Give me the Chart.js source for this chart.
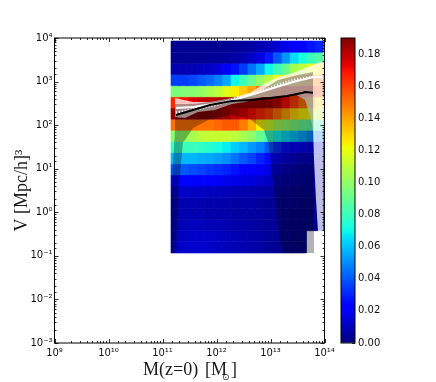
<!DOCTYPE html>
<html>
<head>
<meta charset="utf-8">
<script src="https://cdn.jsdelivr.net/npm/chart.js@4/dist/chart.umd.min.js"></script>
<style>
  html, body { margin: 0; padding: 0; background: #fff; }
  #wrap { position: relative; width: 436px; height: 382px; overflow: hidden; }
  canvas { position: absolute; left: 0; top: 0; }
</style>
</head>
<body>
<div id="wrap">
  <canvas id="map" width="436" height="382"></canvas>
  <canvas id="bar" width="436" height="382"></canvas>
</div>
<script>
// cell edges of the histogram, log10 of mass and volume
const logMassEdges = [11.157,11.314,11.47,11.627,11.783,11.94,12.096,12.253,12.409,12.566,12.722,12.879,13.035,13.192,13.348,13.505,13.661,13.818,13.974];
const logVolEdges = [3.931,3.675,3.419,3.163,2.906,2.65,2.394,2.138,1.882,1.626,1.37,1.114,.858,.602,.345,.089,-.167,-.423,-.679,-.935];

// fraction per cell, top row first
const fractions = [
  [.003,.003,.003,.003,.003,.003,.003,.004,.005,.006,.008,.010,.014,.018,.022,.024,.027,.03],
  [.003,.003,.003,.003,.004,.004,.005,.006,.008,.012,.016,.028,.04,.052,.065,.072,.08,.085],
  [.008,.008,.009,.01,.012,.015,.02,.027,.035,.045,.055,.07,.08,.09,.105,.11,.12,.125],
  [.035,.035,.037,.04,.043,.048,.055,.07,.08,.09,.1,.11,.12,.13,.135,.14,.145,.15],
  [.095,.096,.098,.1,.105,.11,.118,.125,.132,.14,.15,.155,.16,.165,.165,.165,.165,.16],
  [.165,.17,.175,.178,.18,.182,.184,.186,.186,.186,.186,.185,.18,.17,.16,.15,.14,.13],
  [.188,.19,.19,.19,.19,.188,.185,.18,.175,.17,.165,.16,.15,.14,.13,.125,.12,.11],
  [.15,.15,.15,.15,.15,.152,.155,.155,.148,.138,.125,.115,.105,.1,.095,.09,.085,.08],
  [.098,.1,.105,.11,.112,.112,.112,.11,.105,.1,.09,.08,.07,.065,.06,.055,.05,.045],
  [.078,.08,.08,.078,.075,.072,.068,.062,.058,.052,.048,.04,.032,.026,.022,.02,.018,.016],
  [.058,.058,.058,.056,.055,.053,.05,.045,.04,.036,.03,.025,.02,.016,.013,.011,.01,.009],
  [.04,.04,.038,.036,.034,.032,.03,.027,.024,.022,.02,.016,.013,.01,.008,.007,.006,.005],
  [.024,.024,.023,.022,.021,.02,.018,.017,.016,.015,.013,.011,.009,.007,.006,.005,.004,.004],
  [.012,.012,.011,.011,.01,.01,.009,.009,.008,.008,.007,.006,.005,.004,.004,.003,.003,.003],
  [.008,.008,.008,.008,.007,.007,.007,.006,.006,.006,.005,.004,.004,.003,.003,.002,.002,.002],
  [.007,.008,.008,.008,.007,.007,.007,.006,.006,.005,.005,.004,.003,.003,.002,.002,.002,.002],
  [.008,.009,.01,.01,.009,.009,.008,.007,.007,.006,.005,.004,.003,.003,.002,.002,.002,.002],
  [.009,.011,.012,.012,.012,.011,.01,.009,.008,.007,.006,.004,.003,.003,.002,.002,null,null],
  [.01,.012,.013,.013,.012,.011,.01,.009,.008,.007,.006,.004,.003,.003,.002,.002,null,null]
];

// shaded regions and curves, [log10 M, log10 V]
const lightRegion = [[11.231,2.623],[11.565,2.531],[11.88,2.531],[12.287,2.623],[12.62,2.738],[12.843,2.921],[13.139,3.105],[13.417,3.197],[13.974,3.472],[13.974,-.453],[13.88,-.453],[13.843,.282],[13.806,1.2],[13.787,1.888],[13.731,2.233],[13.639,2.577],[13.454,2.715],[13.139,2.646],[12.843,2.646],[12.528,2.531],[12.287,2.485],[11.972,2.347],[11.657,2.302],[11.417,2.164],[11.231,2.187]];
const darkRegion = [[11.231,2.485],[11.565,2.485],[11.88,2.531],[12.287,2.623],[12.528,2.669],[12.843,2.807],[13.139,3.036],[13.509,3.151],[13.787,3.22],[13.806,-.935],[13.213,-.935],[13.083,.351],[12.954,1.613],[12.88,1.888],[12.62,2.141],[12.287,2.233],[11.88,2.141],[11.565,1.934],[11.417,1.659],[11.38,1.613],[11.287,.351],[11.25,-.935],[11.157,-.935],[11.157,.282],[11.231,1.865]];
const upperCurve = [[11.25,2.393],[11.565,2.416],[12.194,2.531],[12.806,2.761],[13.417,2.99],[13.787,3.105],[13.974,3.105]];
const dottedCurve = [[11.25,2.279],[11.972,2.462],[12.528,2.669],[12.843,2.784],[13.139,2.921],[13.454,3.036],[13.787,3.105]];
const medianCurve = [[11.25,2.233],[11.565,2.347],[11.88,2.462],[12.287,2.554],[12.62,2.577],[12.991,2.623],[13.306,2.669],[13.602,2.745],[13.639,2.761],[13.787,2.745]];

// tick labels
const decadeLabels = {'-3':'10⁻³','-2':'10⁻²','-1':'10⁻¹','0':'10⁰','1':'10¹','2':'10²','3':'10³','4':'10⁴',
  '9':'10⁹','10':'10¹⁰','11':'10¹¹','12':'10¹²','13':'10¹³','14':'10¹⁴'};
const colorMax = 0.19;
const barTicks = 0.02;

const plotLeft = 54.5, plotRight = 324.5, plotTop = 38, plotBottom = 343;
const tickFont = { family: '"DejaVu Sans"', size: 10 };

function piece(stops, t) {
  for (let i = 1; i < stops.length; i++) {
    if (t <= stops[i][0]) {
      const f = (t - stops[i - 1][0]) / (stops[i][0] - stops[i - 1][0]);
      return stops[i - 1][1] + f * (stops[i][1] - stops[i - 1][1]);
    }
  }
  return stops[stops.length - 1][1];
}
const jetR = [[0,0],[.35,0],[.66,1],[.89,1],[1,.5]];
const jetG = [[0,0],[.125,0],[.375,1],[.64,1],[.91,0],[1,0]];
const jetB = [[0,.5],[.11,1],[.34,1],[.65,0],[1,0]];
function jet(t) {
  t = Math.min(1, Math.max(0, t));
  return 'rgb(' + Math.round(255 * piece(jetR, t)) + ',' + Math.round(255 * piece(jetG, t)) + ',' + Math.round(255 * piece(jetB, t)) + ')';
}

const pts = list => list.map(p => ({ x: Math.pow(10, p[0]), y: Math.pow(10, p[1]) }));

let datasets = [];
fractions.forEach((row, r) => {
  row.forEach((v, c) => {
    if (v === null) return;
    const col = jet(v / colorMax);
    datasets.push({
      data: pts([[logMassEdges[c], logVolEdges[r]], [logMassEdges[c + 1], logVolEdges[r]],
                 [logMassEdges[c + 1], logVolEdges[r + 1]], [logMassEdges[c], logVolEdges[r + 1]], [logMassEdges[c], logVolEdges[r]]]),
      showLine: true, fill: 'shape', backgroundColor: col, borderColor: col, borderWidth: 0.6,
      pointRadius: 0, tension: 0, order: 10
    });
  });
});
function region(list, color, order) {
  return { data: pts(list.concat([list[0]])), showLine: true, fill: 'shape', backgroundColor: color,
           borderWidth: 0, pointRadius: 0, tension: 0, order: order };
}
datasets.push(region(lightRegion, 'rgba(255,255,255,0.75)', 5));
datasets.push(region(darkRegion, 'rgba(0,0,0,0.3)', 4));
datasets.push({ data: pts(upperCurve), showLine: true, borderColor: '#fff', borderWidth: 2, pointRadius: 0, order: 2 });
datasets.push({ data: pts(dottedCurve), showLine: true, borderColor: '#fff', borderWidth: 3, borderDash: [1, 2], pointRadius: 0, order: 1 });
datasets.push({ data: pts(medianCurve), showLine: true, borderColor: '#000', borderWidth: 2, pointRadius: 0, order: 0 });

// frame and inward ticks, on all four sides like the original
const frameTicks = {
  id: 'frameTicks',
  afterDraw(chart) {
    const { ctx, chartArea: a, scales } = chart;
    ctx.save();
    ctx.strokeStyle = '#000';
    ctx.lineWidth = 0.8;
    ctx.beginPath();
    scales.x.ticks.forEach(t => {
      const px = Math.round(scales.x.getPixelForValue(t.value)) + 0.5;
      const len = t.major ? 4 : 2;
      ctx.moveTo(px, a.bottom); ctx.lineTo(px, a.bottom - len);
      ctx.moveTo(px, a.top); ctx.lineTo(px, a.top + len);
    });
    scales.y.ticks.forEach(t => {
      const py = Math.round(scales.y.getPixelForValue(t.value)) + 0.5;
      const len = t.major ? 4 : 2;
      ctx.moveTo(a.left, py); ctx.lineTo(a.left + len, py);
      ctx.moveTo(a.right, py); ctx.lineTo(a.right - len, py);
    });
    ctx.stroke();
    ctx.lineWidth = 1;
    ctx.strokeRect(a.left, a.top, a.right - a.left, a.bottom - a.top);
    // x axis title with the subscript sun symbol
    ctx.fillStyle = '#1a1a1a';
    ctx.textBaseline = 'alphabetic';
    ctx.textAlign = 'left';
    ctx.font = '18px "Liberation Serif"';
    ctx.fillText('M(z=0)', 143, 375);
    ctx.fillText('[M', 205, 375);
    ctx.fillText(']', 231, 375);
    ctx.font = '9px "DejaVu Sans"';
    ctx.fillText('⊙', 222, 380);
    ctx.restore();
  }
};

function logAxis(min, max) {
  return {
    type: 'logarithmic', min: min, max: max,
    grid: { display: false, drawTicks: false },
    border: { display: false },
    ticks: {
      autoSkip: false, maxRotation: 0, minRotation: 0, color: '#111', font: tickFont,
      major: { enabled: true },
      callback: v => {
        const e = Math.log10(v);
        if (Math.abs(e - Math.round(e)) > 1e-6) return '';
        return decadeLabels[String(Math.round(e))] || '';
      }
    }
  };
}

const xAxis = logAxis(1e9, 1e14);
xAxis.ticks.padding = 4;
xAxis.afterFit = s => { s.height = 382 - plotBottom; };
const yAxis = logAxis(1e-3, 1e4);
yAxis.ticks.padding = 2;
yAxis.title = { display: true, text: 'V [Mpc/h]³', color: '#1a1a1a', padding: { top: 11, bottom: 0 },
                font: { family: '"Liberation Serif"', size: 18, weight: 'normal' } };
yAxis.afterFit = s => { s.width = plotLeft; };

new Chart(document.getElementById('map'), {
  type: 'scatter',
  data: { datasets: datasets },
  options: {
    responsive: false, animation: false, devicePixelRatio: 1,
    layout: { padding: { top: plotTop, right: 436 - plotRight, left: 0, bottom: 0 } },
    plugins: { legend: { display: false }, tooltip: { enabled: false } },
    scales: { x: xAxis, y: yAxis }
  },
  plugins: [frameTicks]
});

// colour bar: one floating bar painted with the same colour map
const barFrame = {
  id: 'barFrame',
  afterDraw(chart) {
    const { ctx, chartArea: a } = chart;
    ctx.save();
    ctx.strokeStyle = '#000';
    ctx.lineWidth = 1;
    ctx.strokeRect(a.left, a.top, a.right - a.left, a.bottom - a.top);
    ctx.restore();
  }
};
new Chart(document.getElementById('bar'), {
  type: 'bar',
  data: {
    labels: ['fraction'],
    datasets: [{
      data: [[0, colorMax]],
      barPercentage: 1, categoryPercentage: 1, borderWidth: 0,
      backgroundColor: ctx => {
        const a = ctx.chart.chartArea;
        if (!a) return '#000';
        const g = ctx.chart.ctx.createLinearGradient(0, a.bottom, 0, a.top);
        for (let i = 0; i <= 100; i++) g.addColorStop(i / 100, jet(i / 100));
        return g;
      }
    }]
  },
  options: {
    responsive: false, animation: false, devicePixelRatio: 1,
    layout: { padding: { top: plotTop, left: 341, right: 0, bottom: 382 - plotBottom } },
    plugins: { legend: { display: false }, tooltip: { enabled: false } },
    scales: {
      x: { display: false },
      y: {
        position: 'right', min: 0, max: colorMax,
        border: { display: false },
        grid: { drawOnChartArea: false, tickLength: -3, tickColor: '#000', tickWidth: 0.8 },
        ticks: { stepSize: barTicks, includeBounds: false, padding: 6, color: '#111', font: tickFont,
                 callback: v => v.toFixed(2) },
        afterFit: s => { s.width = 436 - 355; }
      }
    }
  },
  plugins: [barFrame]
});
</script>
</body>
</html>
